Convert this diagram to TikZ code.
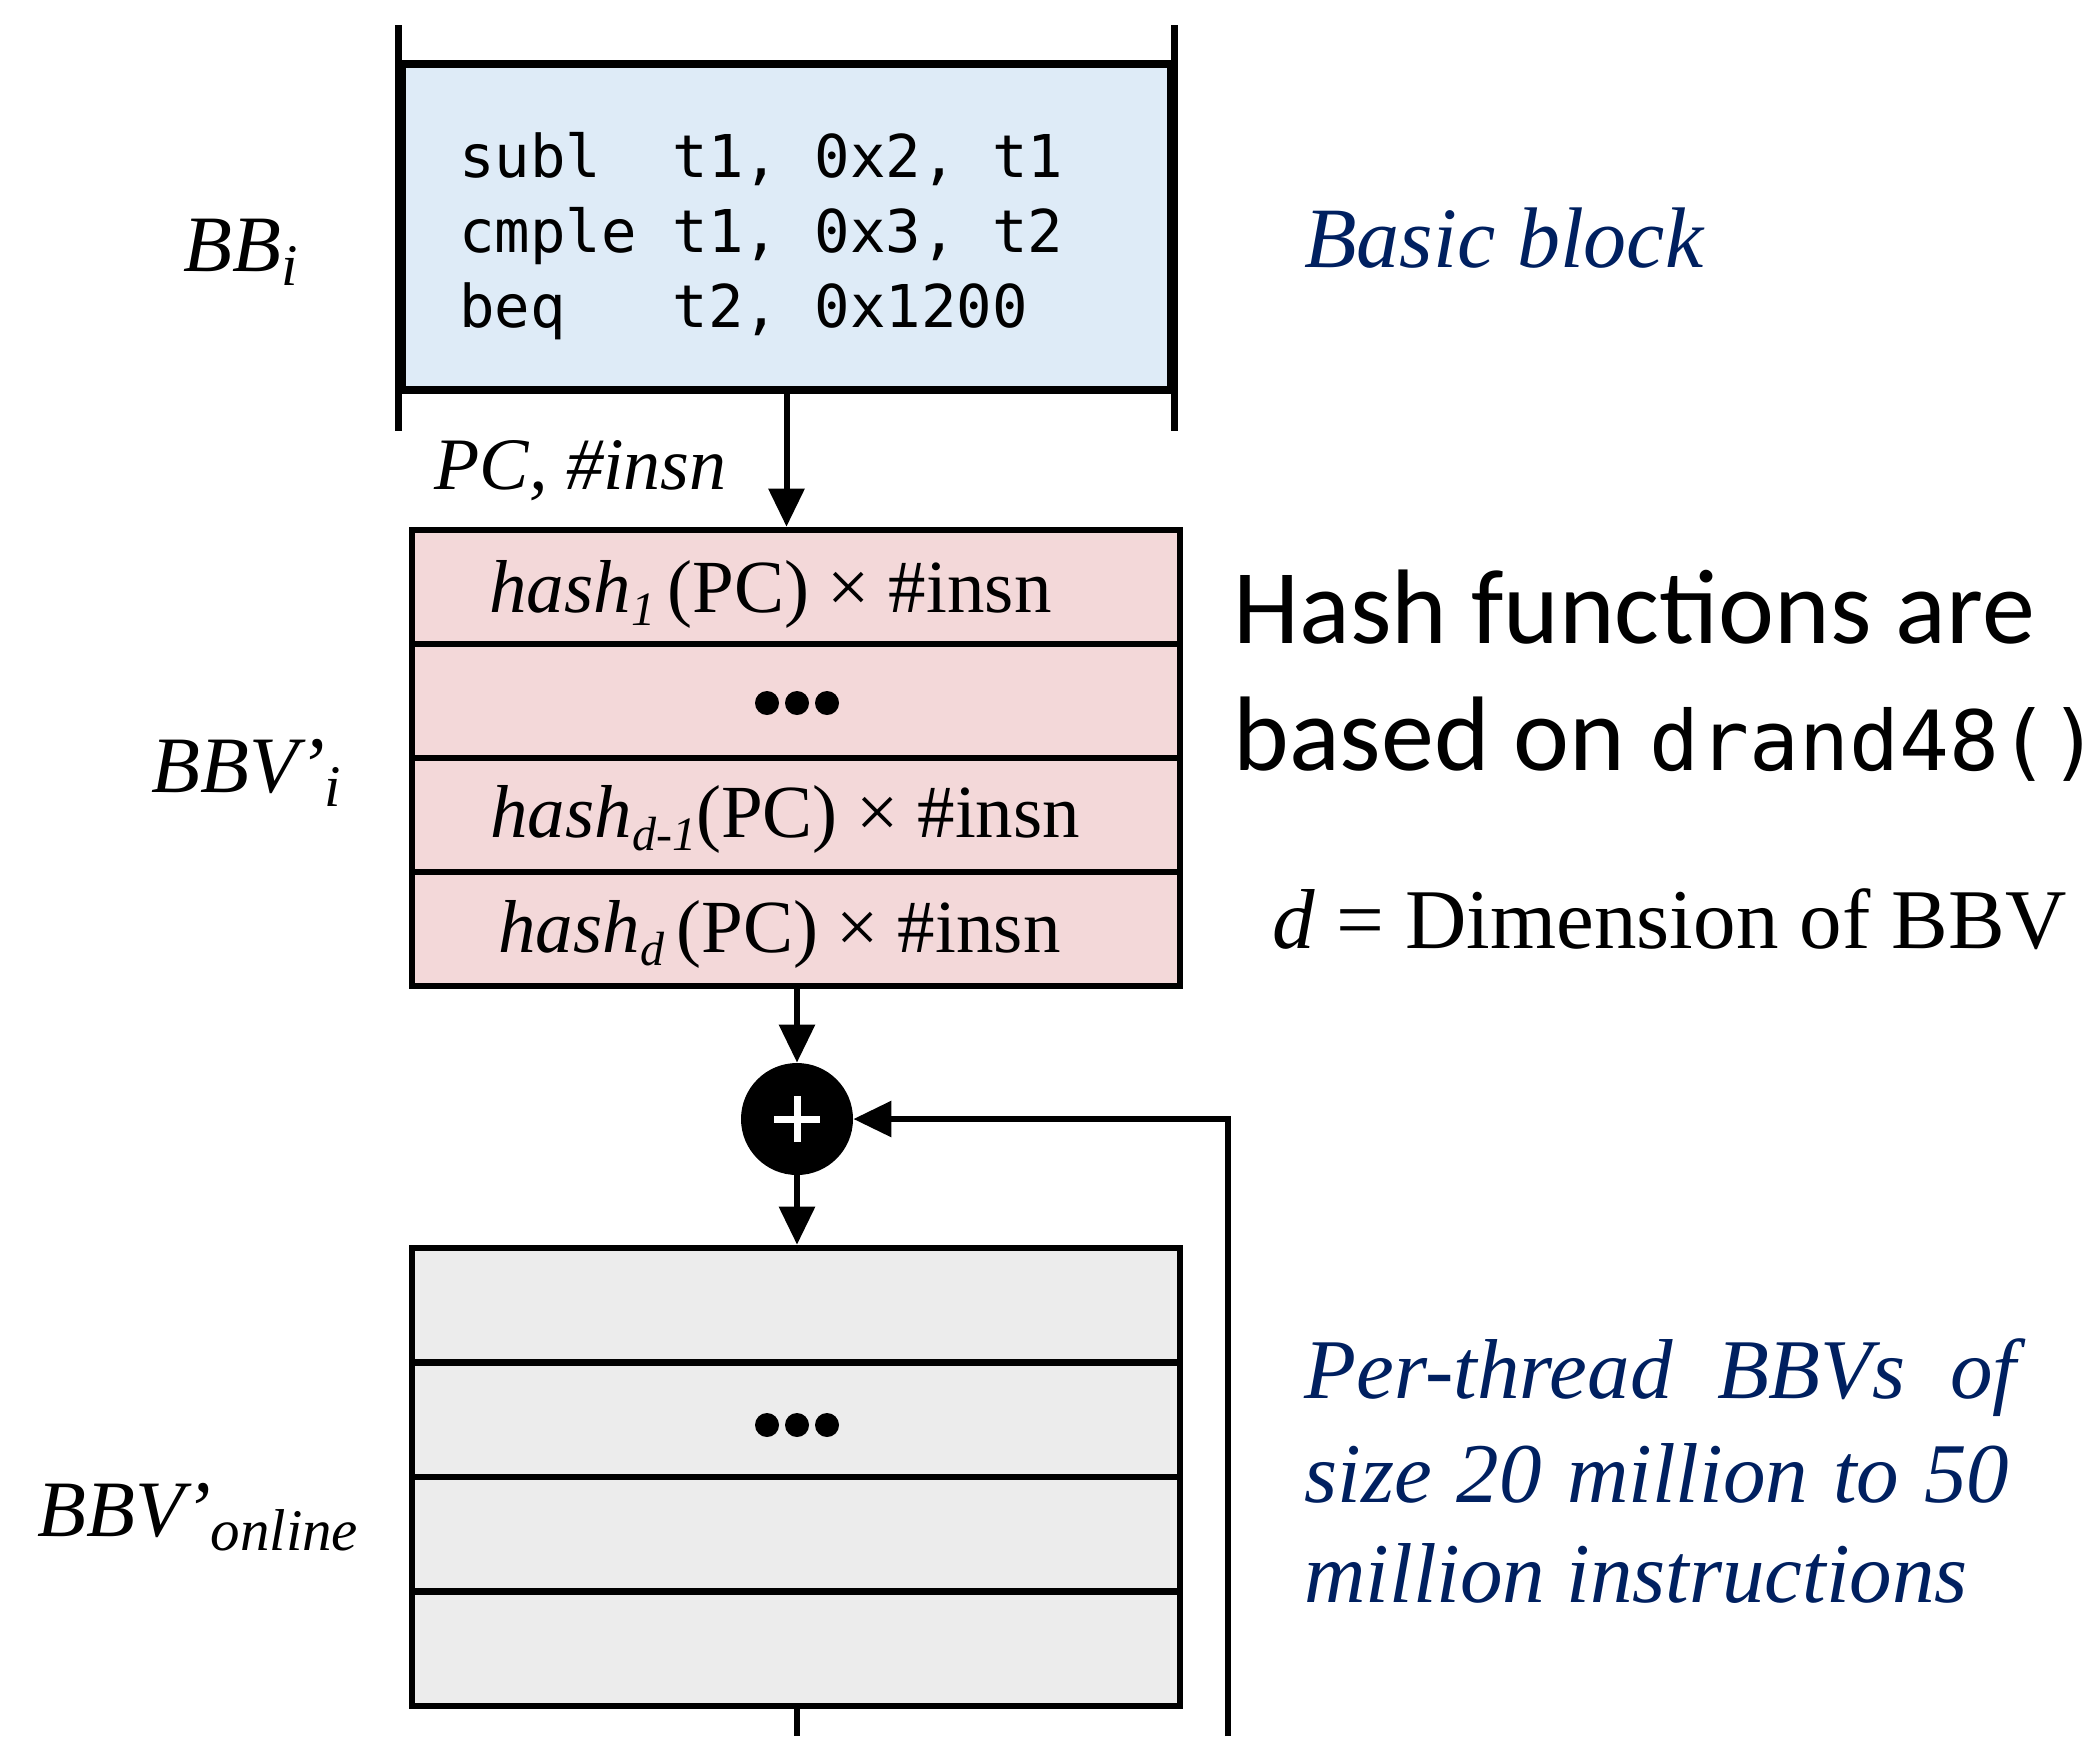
\documentclass[tikz,border=0pt]{standalone}
\usepackage{fontspec}
\setmainfont{Liberation Serif}
\newfontfamily\calfont{Carlito}
\newfontfamily\codefont{DejaVu Sans Mono}
\usetikzlibrary{arrows.meta}
\definecolor{bbblue}{RGB}{222,235,247}
\definecolor{bbpink}{RGB}{243,216,217}
\definecolor{bbgray}{RGB}{236,236,236}
\definecolor{navy}{RGB}{0,32,96}
\newcommand\hsub[1]{\raisebox{-6.5pt}{\fontsize{24}{24}\selectfont\itshape #1}}
\newcommand\lsub[1]{\raisebox{-7pt}{\fontsize{29.5}{29.5}\selectfont\itshape #1}}
\begin{document}
\begin{tikzpicture}[x=0.5pt,y=-0.5pt,
  rowbox/.style={draw, line width=3.3pt, minimum width=384pt, inner sep=0pt},
  pinkrow/.style={rowbox, fill=bbpink, minimum height=57pt},
  grayrow/.style={rowbox, fill=bbgray, minimum height=57.25pt},
  arr/.style={line width=3pt, -{Triangle[length=19pt,width=17.5pt]}},
  plain/.style={line width=3pt},
  txt/.style={inner sep=0pt, anchor=base west},
  codetxt/.style={txt, font=\codefont\fontsize{29.5}{37.5}\selectfont},
  hashtxt/.style={txt, font=\fontsize{37.5}{45}\selectfont},
  lbl/.style={txt, font=\fontsize{40}{48}\selectfont\itshape},
  navytxt/.style={txt, text=navy, font=\fontsize{42.5}{50}\selectfont\itshape},
  dot/.style={circle, fill=black, minimum size=12pt, inner sep=0pt}
]
\useasboundingbox (0,0) rectangle (2093,1736);

% basic block box
\node[draw, fill=bbblue, line width=3.7pt, minimum width=384.5pt, minimum height=163pt, inner sep=0pt] (bb) at (786.5,227) {};
\draw[line width=3.7pt] ([yshift=17.5pt]bb.north west) -- ([yshift=-18.5pt]bb.south west);
\draw[line width=3.7pt] ([yshift=17.5pt]bb.north east) -- ([yshift=-18.5pt]bb.south east);
\node[codetxt] (c1) at (459,177.5) {subl~~t1,~0x2,~t1};
\node[codetxt] (c2) at (459,252) {cmple~t1,~0x3,~t2};
\node[codetxt] (c3) at (459,327) {beq~~~t2,~0x1200};

% hash rows
\node[pinkrow] (r1) at (796,587) {};
\node[pinkrow] (r2) at (796,701) {};
\node[pinkrow] (r3) at (796,815) {};
\node[pinkrow] (r4) at (796,929) {};
\node[hashtxt] (h1) at (489,612) {\textit{hash}\hsub{1}\,(PC) × \#insn};
\node[dot] (d1) at (767,703) {};
\node[dot] (d2) at (797,703) {};
\node[dot] (d3) at (827,703) {};
\node[hashtxt] (h3) at (490,837) {\textit{hash}\hsub{d-1}(PC) × \#insn};
\node[hashtxt] (h4) at (498,952) {\textit{hash}\hsub{d}\,(PC) × \#insn};

% adder
\node[circle, fill=black, minimum size=56pt, inner sep=0pt] (plus) at (797,1119) {};
\draw[white, line width=3.5pt] ([xshift=-11.5pt]plus.center) -- ([xshift=11.5pt]plus.center);
\draw[white, line width=3.5pt] ([yshift=-11.5pt]plus.center) -- ([yshift=11.5pt]plus.center);

% online rows
\node[grayrow] (g1) at (796,1305.25) {};
\node[grayrow] (g2) at (796,1419.75) {};
\node[grayrow] (g3) at (796,1534.25) {};
\node[grayrow] (g4) at (796,1648.75) {};
\node[dot] (e1) at (767,1425) {};
\node[dot] (e2) at (797,1425) {};
\node[dot] (e3) at (827,1425) {};

% connectors
\draw[arr] (bb.south) -- (bb.south |- r1.north);
\node[txt, anchor=base east, font=\fontsize{37}{44}\selectfont\itshape] (pclbl) at (727,489) {PC, \#insn};
\draw[arr] (r4.south -| plus.north) -- (plus.north);
\draw[arr] (plus.south) -- (plus.south |- g1.north);
\coordinate (gb) at (797,1736);
\coordinate (fb) at (1228,1736);
\draw[plain] (g4.south -| gb) -- (gb);
\draw[arr] (fb) |- (plus.east);

% left labels
\node[lbl] (lbb) at (183,271) {BB\lsub{i}};
\node[lbl] (lbbv) at (151,792) {BBV’\lsub{i}};
\node[lbl] (lonl) at (37,1536) {BBV’\lsub{online}};

% right labels
\node[navytxt, font=\fontsize{43}{50}\selectfont\itshape] (basic) at (1304,267) {Basic block};
\node[txt, font=\calfont\fontsize{53}{60}\selectfont] (hf1) at (1233,643) {Hash functions are};
\node[txt, font=\calfont\fontsize{53}{60}\selectfont] (hf2) at (1233,770) {based on {\codefont\fontsize{41.5}{50}\selectfont drand48()}};
\node[txt, font=\fontsize{42.5}{50}\selectfont] (dim) at (1272,948) {\textit{d} = Dimension of BBV};
\node[navytxt] (p1) at (1304,1398) {\makebox[356pt][s]{Per-thread BBVs of}};
\node[navytxt] (p2) at (1304,1502) {\makebox[352.5pt][s]{size 20 million to 50}};
\node[navytxt] (p3) at (1304,1602) {million instructions};
\end{tikzpicture}
\end{document}
